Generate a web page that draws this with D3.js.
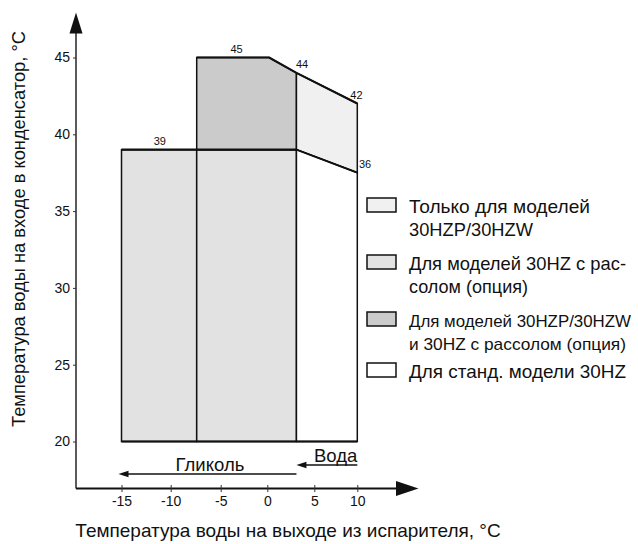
<!DOCTYPE html>
<html><head><meta charset="utf-8">
<script src="https://d3js.org/d3.v7.min.js"></script>
<style>
html,body{margin:0;padding:0;background:#fff;}
svg text{font-family:"Liberation Sans",Arial,sans-serif;fill:#111;}
</style></head>
<body><svg id="c" width="638" height="544"></svg>
<script>
// ---- data ----
const xTicks = [-15, -10, -5, 0, 5, 10];
const yTicks = [20, 25, 30, 35, 40, 45];
// boundaries of regions (evaporator leaving water temperature, °C)
const xBounds = [-15, -7.4, 3.1, 10];
// envelope points (x, condenser entering temperature)
const baseY = 20;
const lowTop = 39;           // glycol flat top
const upperTop = [[-7.4, 45], [0.2, 45], [3.1, 44], [10, 42]];
const lowerRight = [[3.1, 39], [10, 37.5]];
const valueLabels = [
  {text: "39", x: -11.1, y: 39},
  {text: "45", x: -3.3, y: 45},
  {text: "44", x: 3.7, y: 44},
  {text: "42", x: 9.9, y: 42},
  {text: "36", x: 10.9, y: 37.5}
];
const legendItems = [
  {lines: ["Только для моделей", "30HZP/30HZW"], fill: "#f0f0f0"},
  {lines: ["Для моделей 30HZ с рас-", "солом (опция)"], fill: "#e2e2e2"},
  {lines: ["Для моделей 30HZP/30HZW", "и 30HZ с рассолом (опция)"], fill: "#cbcbcb"},
  {lines: ["Для станд. модели 30HZ"], fill: "#ffffff"}
];
const yTitle = "Температура воды на входе в конденсатор, °C";
const xTitle = "Температура воды на выходе из испарителя, °C";

// ---- scales (hand-drawn axis is slightly non-uniform) ----
const x = d3.scaleLinear().domain(xTicks).range([121.5, 170.7, 220.7, 267.3, 314.3, 357.3]);
const y = d3.scaleLinear().domain([20, 45]).range([441.5, 57.5]);

const svg = d3.select("#c");
const line = d3.line().x(d => x(d[0])).y(d => y(d[1]));

// regions
const regions = [
  {pts: [[xBounds[0], baseY], [xBounds[0], lowTop], [xBounds[1], lowTop], [xBounds[1], baseY]], fill: "#e2e2e2"},
  {pts: [[xBounds[1], baseY], [xBounds[1], lowTop], [xBounds[2], lowTop], [xBounds[2], baseY]], fill: "#e2e2e2"},
  {pts: [[xBounds[1], lowTop]].concat(upperTop.slice(0, 3)).concat([[xBounds[2], lowTop]]), fill: "#cbcbcb"},
  {pts: [upperTop[2], upperTop[3], lowerRight[1], lowerRight[0]], fill: "#f0f0f0"},
  {pts: [lowerRight[0], lowerRight[1], [xBounds[3], baseY], [xBounds[2], baseY]], fill: "#ffffff"}
];
svg.append("g").selectAll("path").data(regions).join("path")
  .attr("d", d => line(d.pts) + "Z")
  .attr("fill", d => d.fill).attr("stroke", "#111").attr("stroke-width", 1.5)
  .attr("stroke-linejoin", "miter");
// thicker outline lines
const thick = svg.append("g").attr("fill", "none").attr("stroke", "#111").attr("stroke-width", 2.2);
thick.append("path").attr("d", line([[xBounds[0], lowTop], [xBounds[2], lowTop]]));
thick.append("path").attr("d", line(upperTop));
thick.append("path").attr("d", line([[xBounds[0], baseY], [xBounds[3], baseY]]));
thick.append("path").attr("d", line(lowerRight)).attr("stroke-width", 1.8);

// value labels
svg.append("g").selectAll("text").data(valueLabels).join("text")
  .attr("x", d => x(d.x)).attr("y", d => y(d.y) - 5)
  .attr("text-anchor", "middle").attr("font-size", 11).text(d => d.text);

// ---- axes ----
const axisY = 488.5, axisX = 76;
// y axis
svg.append("line").attr("x1", axisX).attr("x2", axisX).attr("y1", axisY).attr("y2", 30)
  .attr("stroke", "#333").attr("stroke-width", 1.6);
svg.append("path").attr("d", `M${axisX},12.5 L${axisX - 6.5},33.5 L${axisX + 6.5},33.5 Z`).attr("fill", "#111");
const gy = svg.append("g").attr("transform", `translate(${axisX},0)`)
  .call(d3.axisLeft(y).tickValues(yTicks).tickSize(3).tickPadding(3).tickFormat(d => String(d)));
gy.select(".domain").remove();
gy.selectAll(".tick line").attr("stroke", "#333");
gy.selectAll(".tick text").attr("font-size", 14).attr("font-family", "Liberation Sans, Arial").attr("fill", "#111");

// x axis
svg.append("line").attr("x1", axisX).attr("x2", 400).attr("y1", axisY).attr("y2", axisY)
  .attr("stroke", "#111").attr("stroke-width", 2);
svg.append("path").attr("d", `M418.5,${axisY} L396,${axisY - 7.5} L396,${axisY + 7.5} Z`).attr("fill", "#111");
const gx = svg.append("g").attr("transform", `translate(0,${axisY})`)
  .call(d3.axisBottom(x).tickValues(xTicks).tickSize(4).tickPadding(6).tickFormat(d => String(d)));
gx.select(".domain").remove();
gx.selectAll(".tick line").attr("y1", -3.5).attr("y2", 3.5).attr("stroke", "#333");
gx.selectAll(".tick text").attr("font-size", 14).attr("font-family", "Liberation Sans, Arial").attr("fill", "#111")
  .attr("y", 8);

// ---- glycol / water arrows ----
function arrowLeft(x1, x2, yy) {
  const g = svg.append("g");
  g.append("line").attr("x1", x1 + 6).attr("x2", x2).attr("y1", yy).attr("y2", yy)
    .attr("stroke", "#111").attr("stroke-width", 1.5);
  g.append("path").attr("d", `M${x1},${yy} L${x1 + 10},${yy - 3.2} L${x1 + 10},${yy + 3.2} Z`).attr("fill", "#111");
}
arrowLeft(x(-15) - 3, x(xBounds[2]), 474);
arrowLeft(x(xBounds[2]), x(xBounds[3]), 465);
svg.append("text").attr("x", (x(-15) + x(xBounds[2])) / 2 + 1).attr("y", 470.5)
  .attr("text-anchor", "middle").attr("font-size", 18.5).text("Гликоль");
svg.append("text").attr("x", x(xBounds[3])).attr("y", 462)
  .attr("text-anchor", "end").attr("font-size", 18.5).text("Вода");

// ---- legend ----
const legY = [198, 255, 312, 363];
const legLen = [[181, 124], [217, 119], [222, 217], [217]];
const lg = svg.append("g");
legendItems.forEach((d, i) => {
  const g = lg.append("g").attr("transform", `translate(367,${legY[i]})`);
  g.append("rect").attr("x", 0).attr("y", 0).attr("width", 29).attr("height", 14)
    .attr("fill", d.fill).attr("stroke", "#111").attr("stroke-width", 1.5);
  d.lines.forEach((t, j) => {
    g.append("text").attr("x", 42).attr("y", 15 + j * 22.5)
      .attr("font-size", i === 2 ? 17 : 18.5).text(t)
      .attr("textLength", legLen[i][j]).attr("lengthAdjust", "spacingAndGlyphs");
  });
});

// ---- axis titles ----
svg.append("text").attr("transform", "translate(25,229) rotate(-90)")
  .attr("text-anchor", "middle").attr("font-size", 18.3).text(yTitle);
svg.append("text").attr("x", 288).attr("y", 537)
  .attr("text-anchor", "middle").attr("font-size", 19).text(xTitle);
</script></body></html>
